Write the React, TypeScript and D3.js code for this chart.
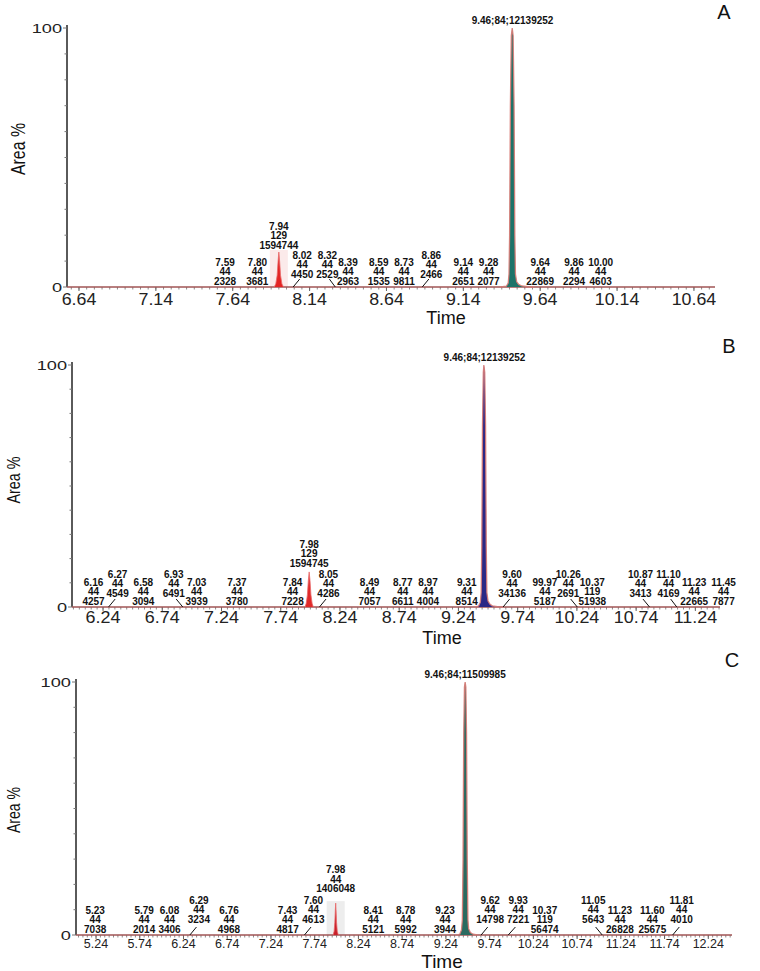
import React from "react";
import * as d3 from "d3";

// ---------------- DATA ----------------
// Panel A
const rtA = [7.59, 7.8, 7.94, 8.02, 8.32, 8.39, 8.59, 8.73, 8.86, 9.14, 9.28, 9.64, 9.86, 10.0];
const ionA = [44, 44, 129, 44, 44, 44, 44, 44, 44, 44, 44, 44, 44, 44];
const areaA = [2328, 3681, 1594744, 4450, 2529, 2963, 1535, 9811, 2466, 2651, 2077, 22869, 2294, 4603];
const placeA = ["base", "base", "apex", "right", "left", "base", "base", "base", "right", "base", "base", "base", "base", "base"];
const topA = { rt: 9.46, ion: 84, area: 12139252 };
const minorTraceA: [number, number][] = [[7.91, 0], [7.92, 1.2], [7.929, 4.5], [7.935, 10], [7.94, 13.5], [7.945, 10], [7.951, 4.5], [7.96, 1.2], [7.97, 0]];
const mainTraceA: [number, number][] = [[9.38, 0], [9.42, 0.3], [9.432, 1.5], [9.437, 5], [9.441, 20], [9.446, 70], [9.452, 97], [9.458, 100], [9.464, 97], [9.47, 70], [9.475, 20], [9.479, 5], [9.487, 2], [9.5, 1], [9.52, 0.4], [9.56, 0.1], [9.6, 0]];

// Panel B
const rtB = [6.16, 6.27, 6.58, 6.93, 7.03, 7.37, 7.84, 7.98, 8.05, 8.49, 8.77, 8.97, 9.31, 9.6, 9.97, 10.26, 10.37, 10.87, 11.1, 11.23, 11.45];
const rtTextOverridesB: Record<number, string> = { 9.97: "99.97" };
const ionB = [44, 44, 44, 44, 44, 44, 44, 129, 44, 44, 44, 44, 44, 44, 44, 44, 119, 44, 44, 44, 44];
const areaB = [4257, 4549, 3094, 6491, 3939, 3780, 7228, 1594745, 4286, 7057, 6611, 4004, 8514, 34136, 5187, 2691, 51938, 3413, 4169, 22665, 7877];
const placeB = ["base", "right", "base", "left", "base", "base", "base", "apex", "right", "base", "base", "base", "base", "right", "base", "left", "base", "left", "left", "base", "base"];
const topB = { rt: 9.46, ion: 84, area: 12139252 };
const minorTraceB: [number, number][] = [[7.945, 0], [7.955, 1.5], [7.965, 5], [7.973, 11], [7.98, 14.5], [7.987, 11], [7.995, 5], [8.005, 1.5], [8.015, 0]];
const mainTraceB: [number, number][] = [[9.38, 0], [9.41, 0.4], [9.425, 2], [9.432, 6], [9.437, 25], [9.443, 75], [9.45, 97], [9.455, 100], [9.462, 97], [9.469, 75], [9.475, 25], [9.48, 6], [9.49, 2.5], [9.505, 1.2], [9.525, 0.5], [9.57, 0.1], [9.62, 0]];

// Panel C
const rtC = [5.23, 5.79, 6.08, 6.29, 6.76, 7.43, 7.6, 7.98, 8.41, 8.78, 9.23, 9.62, 9.93, 10.37, 11.05, 11.23, 11.6, 11.81];
const ionC = [44, 44, 44, 44, 44, 44, 44, 44, 44, 44, 44, 44, 44, 119, 44, 44, 44, 44];
const areaC = [7038, 2014, 3406, 3234, 4968, 4817, 4613, 1406048, 5121, 5992, 3944, 14798, 7221, 56474, 5643, 26828, 25675, 4010];
const placeC = ["base", "base", "base", "right", "base", "base", "right", "apex", "base", "base", "base", "right", "right", "base", "left", "base", "base", "right"];
const topC = { rt: 9.46, ion: 84, area: 11509985 };
const minorTraceC: [number, number][] = [[7.95, 0], [7.962, 1.5], [7.97, 5], [7.976, 10], [7.98, 12.6], [7.984, 10], [7.99, 5], [7.998, 1.5], [8.01, 0]];
const mainTraceC: [number, number][] = [[9.37, 0], [9.4, 0.4], [9.418, 2], [9.428, 6], [9.436, 30], [9.444, 80], [9.452, 98], [9.46, 100], [9.468, 98], [9.476, 80], [9.484, 30], [9.492, 6], [9.5, 2.5], [9.52, 1], [9.55, 0.3], [9.6, 0]];

// Axis tick definitions
const yTickValues = d3.range(0, 101, 10);
const majorTicksA = [6.64, 7.14, 7.64, 8.14, 8.64, 9.14, 9.64, 10.14, 10.64];
const majorTicksB = [6.24, 6.74, 7.24, 7.74, 8.24, 8.74, 9.24, 9.74, 10.24, 10.74, 11.24];
const majorTicksC = [5.24, 5.74, 6.24, 6.74, 7.24, 7.74, 8.24, 8.74, 9.24, 9.74, 10.24, 10.74, 11.24, 11.74, 12.24];
const minorStep = 0.05;

// ---------------- LAYOUT ----------------
const FONT = "'Liberation Sans', Arial, Helvetica, sans-serif";

interface Spec {
  letter: string;
  left: number;
  right: number;
  y0: number;
  y100: number;
  domain: [number, number];
  tickFont: number;
  tickScale: number;
  tickDy: number;
  yLabFont: number;
  yLabScale: number;
  timeX: number;
  timeY: number;
  timeFont: number;
  areaX: number;
  areaY: number;
  areaLen: number;
  areaFont: number;
  letterX: number;
  letterY: number;
  fill: string;
  minorFill: string;
  raise: number;
  apexGap: number;
  highlight: string | null;
}

interface PanelData {
  rt: number[];
  ion: number[];
  area: number[];
  place: string[];
  top: { rt: number; ion: number; area: number };
  minorTrace: [number, number][];
  mainTrace: [number, number][];
  majorTicks: number[];
  overrides?: Record<number, string>;
}

const specs: Spec[] = [
  {
    letter: "A", left: 67, right: 715, y0: 287, y100: 28, domain: [6.562, 10.777],
    tickFont: 16.5, tickScale: 1.08, tickDy: 18, yLabFont: 13, yLabScale: 1.4,
    timeX: 446, timeY: 324, timeFont: 18,
    areaX: 18, areaY: 149, areaLen: 52, areaFont: 20, letterX: 724, letterY: 19,
    fill: "#1d7369", minorFill: "#e32424", raise: 9, apexGap: 3, highlight: "#fbeaea",
  },
  {
    letter: "B", left: 72, right: 720, y0: 607, y100: 365, domain: [5.978, 11.448],
    tickFont: 16, tickScale: 1.12, tickDy: 16, yLabFont: 13, yLabScale: 1.4,
    timeX: 442, timeY: 644, timeFont: 18,
    areaX: 13, areaY: 480, areaLen: 47, areaFont: 19, letterX: 729, letterY: 353,
    fill: "#2b2886", minorFill: "#e02a2a", raise: 10, apexGap: 5, highlight: null,
  },
  {
    letter: "C", left: 76, right: 732, y0: 935, y100: 682, domain: [5.011, 12.511],
    tickFont: 12.5, tickScale: 1.0, tickDy: 13, yLabFont: 13.5, yLabScale: 1.35,
    timeX: 442, timeY: 968, timeFont: 19,
    areaX: 13, areaY: 810, areaLen: 46, areaFont: 19, letterX: 732, letterY: 667,
    fill: "#2a6a60", minorFill: "#c8202a", raise: 12, apexGap: 11, highlight: "#ededed",
  },
];

const panelData: PanelData[] = [
  { rt: rtA, ion: ionA, area: areaA, place: placeA, top: topA, minorTrace: minorTraceA, mainTrace: mainTraceA, majorTicks: majorTicksA },
  { rt: rtB, ion: ionB, area: areaB, place: placeB, top: topB, minorTrace: minorTraceB, mainTrace: mainTraceB, majorTicks: majorTicksB, overrides: rtTextOverridesB },
  { rt: rtC, ion: ionC, area: areaC, place: placeC, top: topC, minorTrace: minorTraceC, mainTrace: mainTraceC, majorTicks: majorTicksC },
];

const LINE_H = 9.6;
const LABEL_FONT = 10;
const LEAN = 11;
const GAP = 3;

function textWidth(s: string) {
  let w = 0;
  for (const ch of s) w += ch === "." ? 2.78 : ch === ";" ? 3.33 : 5.56;
  return w * (LABEL_FONT / 10);
}

function Panel({ s, d }: { s: Spec; d: PanelData }) {
  const x = d3.scaleLinear().domain(s.domain).range([s.left, s.right]);
  const y = d3.scaleLinear().domain([0, 100]).range([s.y0, s.y100]);
  const areaGen = d3
    .area<[number, number]>()
    .x((p) => x(p[0]))
    .y0(y(0))
    .y1((p) => y(p[1]));
  const lineGen = d3
    .line<[number, number]>()
    .x((p) => x(p[0]))
    .y((p) => y(p[1]));

  const first = d.majorTicks[0];
  const nBack = Math.floor((first - s.domain[0]) / minorStep + 1e-6);
  const minorTicks = d3
    .range(first - nBack * minorStep, s.domain[1] + 1e-6, minorStep)
    .filter((t) => t >= s.domain[0] - 1e-6);

  const minorMax = d3.max(d.minorTrace, (p) => p[1]) ?? 0;
  const minorPeakT = d.minorTrace.find((p) => p[1] === minorMax)?.[0] ?? 0;

  const labels = d.rt.map((t, i) => {
    const place = d.place[i];
    const tx = d.overrides && d.overrides[t] ? d.overrides[t] : t.toFixed(2);
    const lines = [tx, String(d.ion[i]), String(d.area[i])];
    const w = d3.max(lines, textWidth) ?? 20;
    const px = x(t);
    let cx = px;
    let baseY = s.y0 - 2;
    let row = 0;
    if (place === "right" || place === "left") {
      cx = px + (place === "right" ? 1 : -1) * LEAN;
      baseY = s.y0 - s.raise;
      row = 1;
    } else if (place === "apex") {
      baseY = y(minorMax) - s.apexGap;
      row = 2;
    }
    return { lines, cx, px, baseY, row, w, place, key: i };
  });

  // simple left-to-right overlap removal within each label row
  for (const row of [0, 1]) {
    let prevRight = -Infinity;
    labels
      .filter((l) => l.row === row)
      .sort((a, b) => a.cx - b.cx)
      .forEach((l) => {
        const minCx = prevRight + GAP + l.w / 2;
        if (l.cx < minCx) l.cx = minCx;
        prevRight = l.cx + l.w / 2;
      });
  }

  return (
    <g>
      {s.highlight && (
        <rect
          x={x(minorPeakT) - 9}
          width={18}
          y={y(minorMax) - 2}
          height={y(0) - y(minorMax) + 2}
          fill={s.highlight}
        />
      )}
      {/* y axis */}
      <line x1={s.left} x2={s.left} y1={y(0)} y2={y(100) - 3} stroke="#5a5a5a" strokeWidth={2} />
      {yTickValues.map((v) => (
        <line
          key={v}
          x1={s.left - (v === 0 || v === 100 ? 4 : 2.5)}
          x2={s.left}
          y1={y(v)}
          y2={y(v)}
          stroke="#777"
          strokeWidth={1}
        />
      ))}
      {[0, 100].map((v) => (
        <text
          key={v}
          transform={`translate(${s.left - 5},${y(v) + 5}) scale(${s.yLabScale},1)`}
          textAnchor="end"
          fontFamily={FONT}
          fontSize={s.yLabFont}
          fill="#222"
        >
          {v}
        </text>
      ))}

      {/* x axis */}
      {minorTicks.map((t, i) => (
        <line key={i} x1={x(t)} x2={x(t)} y1={y(0)} y2={y(0) + 2.5} stroke="#8a8a8a" strokeWidth={1} />
      ))}
      {d.majorTicks.map((t) => (
        <line key={"M" + t} x1={x(t)} x2={x(t)} y1={y(0)} y2={y(0) + 4} stroke="#666" strokeWidth={1} />
      ))}
      <line x1={s.left} x2={s.right} y1={y(0)} y2={y(0)} stroke="#a05454" strokeWidth={1.6} />
      {d.majorTicks.map((t) => (
        <text
          key={"L" + t}
          transform={`translate(${x(t)},${y(0) + s.tickDy}) scale(${s.tickScale},1)`}
          textAnchor="middle"
          fontFamily={FONT}
          fontSize={s.tickFont}
          fill="#222"
        >
          {t.toFixed(2)}
        </text>
      ))}

      {/* peaks */}
      <path d={areaGen(d.minorTrace) ?? ""} fill={s.minorFill} />
      <path d={lineGen(d.minorTrace) ?? ""} fill="none" stroke="#e86a6a" strokeWidth={0.8} />
      <path d={areaGen(d.mainTrace) ?? ""} fill={s.fill} />
      <path d={lineGen(d.mainTrace) ?? ""} fill="none" stroke="#d87a74" strokeWidth={1.3} opacity={0.9} />

      {/* peak labels */}
      {labels.map((l) => {
        const dir = l.cx >= l.px ? 1 : -1;
        const leader =
          l.row === 1
            ? [l.px + dir * 2, s.y0, l.px + dir * 2 + (l.cx - l.px) * 0.6, s.y0 - 8]
            : null;
        return (
          <g key={l.key}>
            {leader && (
              <line x1={leader[0]} y1={leader[1]} x2={leader[2]} y2={leader[3]} stroke="#111" strokeWidth={1} />
            )}
            <text x={l.cx} textAnchor="middle" fontFamily={FONT} fontSize={LABEL_FONT} fontWeight="bold" fill="#111">
              {l.lines.map((ln, j) => (
                <tspan key={j} x={l.cx} y={l.baseY - (l.lines.length - 1 - j) * LINE_H}>
                  {ln}
                </tspan>
              ))}
            </text>
          </g>
        );
      })}

      {/* top label of main peak */}
      <text
        x={x(d.top.rt)}
        y={y(100) - 4}
        textAnchor="middle"
        fontFamily={FONT}
        fontSize={LABEL_FONT}
        fontWeight="bold"
        fill="#111"
      >
        {`${d.top.rt.toFixed(2)};${d.top.ion};${d.top.area}`}
      </text>

      {/* titles */}
      <text x={s.timeX} y={s.timeY} textAnchor="middle" fontFamily={FONT} fontSize={s.timeFont} fill="#111">
        Time
      </text>
      <text
        transform={`translate(${s.areaX},${s.areaY}) rotate(-90)`}
        textAnchor="middle"
        dy="0.35em"
        fontFamily={FONT}
        fontSize={s.areaFont}
        textLength={s.areaLen}
        lengthAdjust="spacingAndGlyphs"
        fill="#111"
      >
        Area %
      </text>
      <text x={s.letterX} y={s.letterY} textAnchor="middle" fontFamily={FONT} fontSize={20} fill="#111">
        {s.letter}
      </text>
    </g>
  );
}

export default function App() {
  return (
    <svg
      width={760}
      height={971}
      viewBox="0 0 760 971"
      style={{ position: "absolute", left: 0, top: 0, background: "#fff" }}
    >
      <rect x={0} y={0} width={760} height={971} fill="#fff" />
      {specs.map((s, i) => (
        <Panel key={s.letter} s={s} d={panelData[i]} />
      ))}
    </svg>
  );
}
